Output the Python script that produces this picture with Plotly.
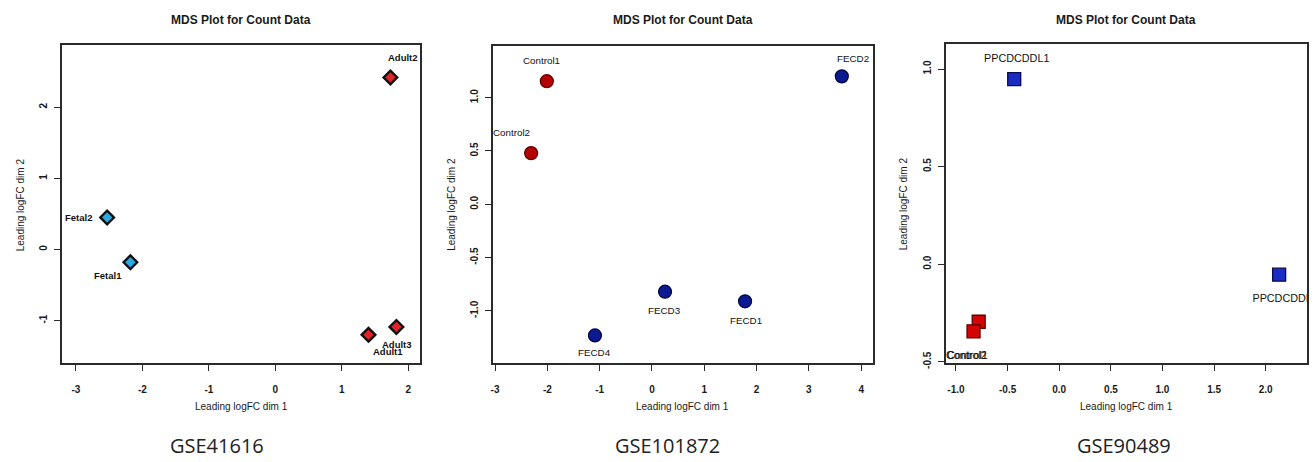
import plotly.graph_objects as go

W, H = 1316, 462

# ---- data: MDS coordinates (leading logFC dims) per dataset ----
gse41616_samples = ["Fetal1", "Fetal2", "Adult1", "Adult2", "Adult3"]
gse41616_dim1 = [-2.18, -2.53, 1.40, 1.73, 1.82]
gse41616_dim2 = [-0.18, 0.45, -1.20, 2.42, -1.09]
gse41616_group = ["Fetal", "Fetal", "Adult", "Adult", "Adult"]

gse101872_samples = ["Control1", "Control2", "FECD1", "FECD2", "FECD3", "FECD4"]
gse101872_dim1 = [-2.01, -2.31, 1.78, 3.63, 0.25, -1.09]
gse101872_dim2 = [1.155, 0.48, -0.91, 1.20, -0.82, -1.23]
gse101872_group = ["Control", "Control", "FECD", "FECD", "FECD", "FECD"]

gse90489_samples = ["Control1", "Control2", "PPCDCDDL1", "PPCDCDDL2"]
gse90489_dim1 = [-0.78, -0.83, -0.436, 2.13]
gse90489_dim2 = [-0.295, -0.344, 0.948, -0.054]
gse90489_group = ["Control", "Control", "PPCD", "PPCD"]

dataset_names = ["GSE41616", "GSE101872", "GSE90489"]

# tick labels
p1_xticks = [-3, -2, -1, 0, 1, 2]
p1_xtext = ["-3", "-2", "-1", "0", "1", "2"]
p1_yticks = [-1, 0, 1, 2]
p1_ytext = ["-1", "0", "1", "2"]
p2_xticks = [-3, -2, -1, 0, 1, 2, 3, 4]
p2_xtext = ["-3", "-2", "-1", "0", "1", "2", "3", "4"]
p2_yticks = [-1.0, -0.5, 0.0, 0.5, 1.0]
p2_ytext = ["-1.0", "-0.5", "0.0", "0.5", "1.0"]
p3_xticks = [-1.0, -0.5, 0.0, 0.5, 1.0, 1.5, 2.0]
p3_xtext = ["-1.0", "-0.5", "0.0", "0.5", "1.0", "1.5", "2.0"]
p3_yticks = [-0.5, 0.0, 0.5, 1.0]
p3_ytext = ["-0.5", "0.0", "0.5", "1.0"]

# ---- layout / styling ----
FONT = "Liberation Sans, Arial, sans-serif"
TXT = "#1a1a1a"

# plot boxes in pixels: left, top, right, bottom
boxes = [(60, 46, 419, 368), (491.7, 46.7, 872, 367.7), (945.3, 45, 1307, 367.7)]
ranges = [
    ((-3.21, 2.18), (-1.60, 2.87)),
    ((-3.04, 4.22), (-1.488, 1.484)),
    ((-1.098, 2.40), (-0.506, 1.126)),
]
ticks = [
    (p1_xticks, p1_xtext, p1_yticks, p1_ytext),
    (p2_xticks, p2_xtext, p2_yticks, p2_ytext),
    (p3_xticks, p3_xtext, p3_yticks, p3_ytext),
]

def px_x(v):
    return v / W

def px_y(v):
    return 1 - v / H

fig = go.Figure()
layout = dict(
    width=W, height=H,
    margin=dict(l=0, r=0, t=0, b=0),
    paper_bgcolor="white", plot_bgcolor="white",
    showlegend=False,
    font=dict(family=FONT, color=TXT),
)

for i, (box, rng, tk) in enumerate(zip(boxes, ranges, ticks)):
    n = "" if i == 0 else str(i + 1)
    l, t, r, b = box
    axis_common = dict(
        showline=True, mirror=True, linecolor="#2b2b2b", linewidth=1.5,
        showgrid=False, zeroline=False, ticks="outside", ticklen=6,
        tickwidth=1.3, tickcolor="#2b2b2b",
        tickfont=dict(family=FONT, size=10, color=TXT, weight="bold"),
        tickmode="array", fixedrange=True,
    )
    layout["xaxis" + n] = dict(
        axis_common, domain=[px_x(l), px_x(r)], range=list(rng[0]),
        tickvals=tk[0], ticktext=tk[1], anchor="y" + n, ticklabelstandoff=10,
    )
    layout["yaxis" + n] = dict(
        axis_common, domain=[px_y(b), px_y(t)], range=list(rng[1]),
        tickvals=tk[2], ticktext=tk[3], anchor="x" + n, tickangle=-90,
        ticklabelstandoff=3,
    )

annotations = []
for i, (box, name) in enumerate(zip(boxes, dataset_names)):
    l, t, r, b = box
    cx = (l + r) / 2
    annotations.append(dict(
        text="<b>MDS Plot for Count Data</b>", xref="paper", yref="paper",
        x=px_x(cx), y=px_y(20.7), showarrow=False, xanchor="center", yanchor="middle",
        font=dict(family=FONT, size=12, color=TXT)))
    annotations.append(dict(
        text="Leading logFC dim 1", xref="paper", yref="paper",
        x=px_x(cx), y=px_y(411.7), showarrow=False, xanchor="center", yanchor="middle",
        font=dict(family=FONT, size=10, color=TXT)))

ytitle_x = [18, 450, 903]
for i, box in enumerate(boxes):
    l, t, r, b = box
    annotations.append(dict(
        text="Leading logFC dim 2", xref="paper", yref="paper",
        x=px_x(ytitle_x[i]), y=px_y((t + b) / 2), showarrow=False, textangle=-90,
        xanchor="center", yanchor="middle",
        font=dict(family=FONT, size=10, color=TXT)))

gse_label_x = [215, 666.7, 1124]
for name, gx in zip(dataset_names, gse_label_x):
    annotations.append(dict(
        text=name, xref="paper", yref="paper", x=px_x(gx), y=px_y(451),
        showarrow=False, xanchor="center", yanchor="middle",
        font=dict(family="Open Sans, Noto Sans, sans-serif", size=20, color="#222222")))

# ---- markers ----
p1_fill = {"Fetal": "#2aaae2", "Adult": "#e0242a"}
fig.add_trace(go.Scatter(
    x=gse41616_dim1, y=gse41616_dim2, xaxis="x", yaxis="y", mode="markers",
    marker=dict(symbol="diamond", size=10.5,
                color=[p1_fill[g] for g in gse41616_group],
                line=dict(color="#111111", width=2.4)),
    cliponaxis=False, hoverinfo="skip"))

p2_fill = {"Control": "#b40202", "FECD": "#0c1a92"}
p2_edge = {"Control": "#5a0000", "FECD": "#02023f"}
fig.add_trace(go.Scatter(
    x=gse101872_dim1, y=gse101872_dim2, xaxis="x2", yaxis="y2", mode="markers",
    marker=dict(symbol="circle", size=13,
                color=[p2_fill[g] for g in gse101872_group],
                line=dict(color=[p2_edge[g] for g in gse101872_group], width=1.2)),
    cliponaxis=False, hoverinfo="skip"))

p3_fill = {"Control": "#d20404", "PPCD": "#1a2cc2"}
p3_edge = {"Control": "#5e0000", "PPCD": "#0a0a4e"}
fig.add_trace(go.Scatter(
    x=gse90489_dim1, y=gse90489_dim2, xaxis="x3", yaxis="y3", mode="markers",
    marker=dict(symbol="square", size=13,
                color=[p3_fill[g] for g in gse90489_group],
                line=dict(color=[p3_edge[g] for g in gse90489_group], width=1.3)),
    cliponaxis=False, hoverinfo="skip"))

# ---- sample labels (pixel offsets from each point) ----
label_sets = [
    ("x", "y", gse41616_samples, gse41616_dim1, gse41616_dim2,
     dict(size=9.5, weight="bold"), {
        "Fetal1": (-22.7, -13.3, "center"),
        "Fetal2": (-13, 0, "right"),
        "Adult1": (19.5, -16.7, "center"),
        "Adult2": (13, 20, "center"),
        "Adult3": (0.7, -18, "center"),
    }),
    ("x2", "y2", gse101872_samples, gse101872_dim1, gse101872_dim2,
     dict(size=9.8), {
        "Control1": (-5, 21, "center"),
        "Control2": (-20, 20.7, "center"),
        "FECD1": (0.7, -19.3, "center"),
        "FECD2": (10.7, 17.7, "center"),
        "FECD3": (-1, -18.3, "center"),
        "FECD4": (0, -17.3, "center"),
    }),
    ("x3", "y3", gse90489_samples, gse90489_dim1, gse90489_dim2,
     dict(size=10.8), {
        "Control1": (-11, -33.3, "center"),
        "Control2": (-6.7, -23.6, "center"),
        "PPCDCDDL1": (2.3, 21.6, "center"),
    }),
]
for xr, yr, names, xs, ys, fnt, offs in label_sets:
    for nm, xv, yv in zip(names, xs, ys):
        if nm not in offs:
            continue
        dx, dy, anc = offs[nm]
        annotations.append(dict(
            text=nm, xref=xr, yref=yr, x=xv, y=yv, xshift=dx, yshift=dy,
            showarrow=False, xanchor=anc, yanchor="middle",
            font=dict(family=FONT, color="#111111", **fnt)))

# label that runs past the right edge of the third panel, clipped by the axes
edge_idx = gse90489_samples.index("PPCDCDDL2")
fig.add_trace(go.Scatter(
    x=[gse90489_dim1[edge_idx]], y=[gse90489_dim2[edge_idx]], xaxis="x3", yaxis="y3",
    mode="markers+text",
    text=["\u00a0" * 4 + gse90489_samples[edge_idx]], textposition="bottom center",
    textfont=dict(family=FONT, size=10.8, color="#111111"),
    marker=dict(size=28.8, opacity=0), cliponaxis=True, hoverinfo="skip"))

layout["annotations"] = annotations
fig.update_layout(**layout)
fig.write_html("out.html")
